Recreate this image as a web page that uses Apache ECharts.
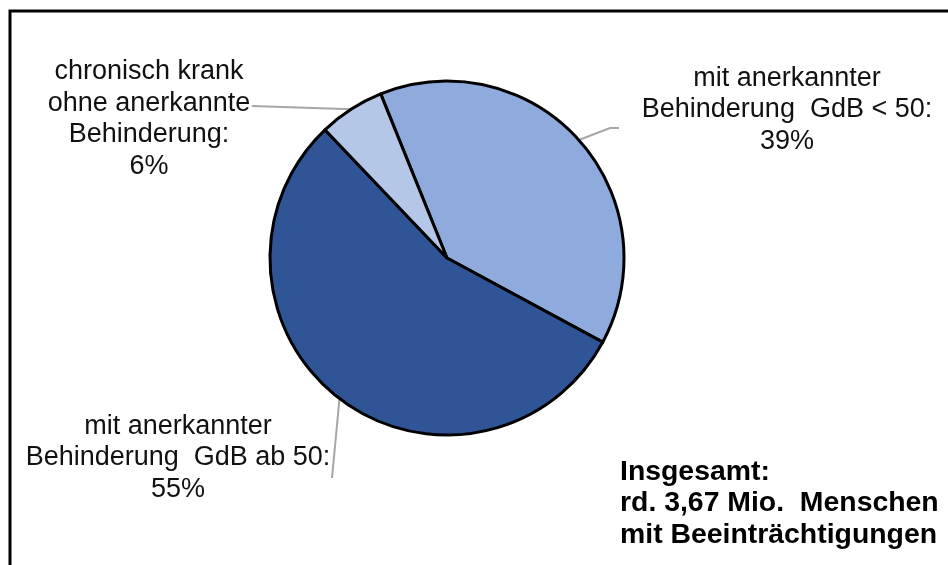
<!DOCTYPE html>
<html>
<head>
<meta charset="utf-8">
<script src="https://cdn.jsdelivr.net/npm/echarts@6/dist/echarts.min.js"></script>
<style>
    html, body { margin: 0; padding: 0; background: #fff; }
    #chart { width: 948px; height: 565px; }
</style>
</head>
<body>
<div id="chart"></div>
<script>
    // data
    const categories = [
        'mit anerkannter\nBehinderung  GdB < 50:',
        'mit anerkannter\nBehinderung  GdB ab 50:',
        'chronisch krank\nohne anerkannte\nBehinderung:'
    ];
    const shares = [39, 55, 6];
    const totalNote = ['Insgesamt:', 'rd. 3,67 Mio.  Menschen', 'mit Beeinträchtigungen'];

    const sliceColors = ['#8FAADC', '#2F5597', '#B4C7E7'];
    // label block centres and leader line bends, relative to the label centre (layout only)
    const labelSpots = [
        {x: 787, y: 110, bends: [[-177, 18], [-168, 18]]},
        {x: 178, y: 458, bends: [[154, 20]]},
        {x: 149, y: 119, bends: [[103, -13]]}
    ];

    let chart = echarts.init(document.getElementById('chart'));

    let option = {
        backgroundColor: '#fff',
        animation: false,
        graphic: [
            {
                type: 'rect',
                shape: {x: 10, y: 11, width: 1200, height: 1000},
                style: {fill: 'none', stroke: '#000', lineWidth: 3},
                silent: true
            },
            {
                type: 'text',
                left: 620,
                top: 456,
                style: {
                    text: totalNote.join('\n'),
                    font: 'bold 28.4px "Liberation Sans", Arial, sans-serif',
                    lineHeight: 31.5,
                    fill: '#000'
                }
            }
        ],
        series: [
            {
                type: 'pie',
                center: [447, 258],
                radius: 177,
                startAngle: 112,
                clockwise: true,
                data: categories.map((name, i) => ({
                    name: name,
                    value: shares[i],
                    itemStyle: {color: sliceColors[i]}
                })),
                itemStyle: {borderColor: '#000', borderWidth: 3},
                label: {
                    show: true,
                    formatter: '{b}\n{c}%',
                    fontSize: 27,
                    fontFamily: '"Liberation Sans", Arial, sans-serif',
                    lineHeight: 31.5,
                    color: '#111',
                    align: 'center',
                    overflow: 'none'
                },
                labelLine: {
                    show: true,
                    lineStyle: {color: '#A6A6A6', width: 2}
                },
                labelLayout: function (p) {
                    let s = labelSpots[p.dataIndex];
                    let out = {x: s.x, y: s.y, align: 'center', verticalAlign: 'middle'};
                    if (p.labelLinePoints) {
                        let pts = [p.labelLinePoints[0]];
                        s.bends.forEach(b => pts.push([s.x + b[0], s.y + b[1]]));
                        out.labelLinePoints = pts;
                    }
                    return out;
                }
            }
        ]
    };

    chart.setOption(option, true);
</script>
</body>
</html>
